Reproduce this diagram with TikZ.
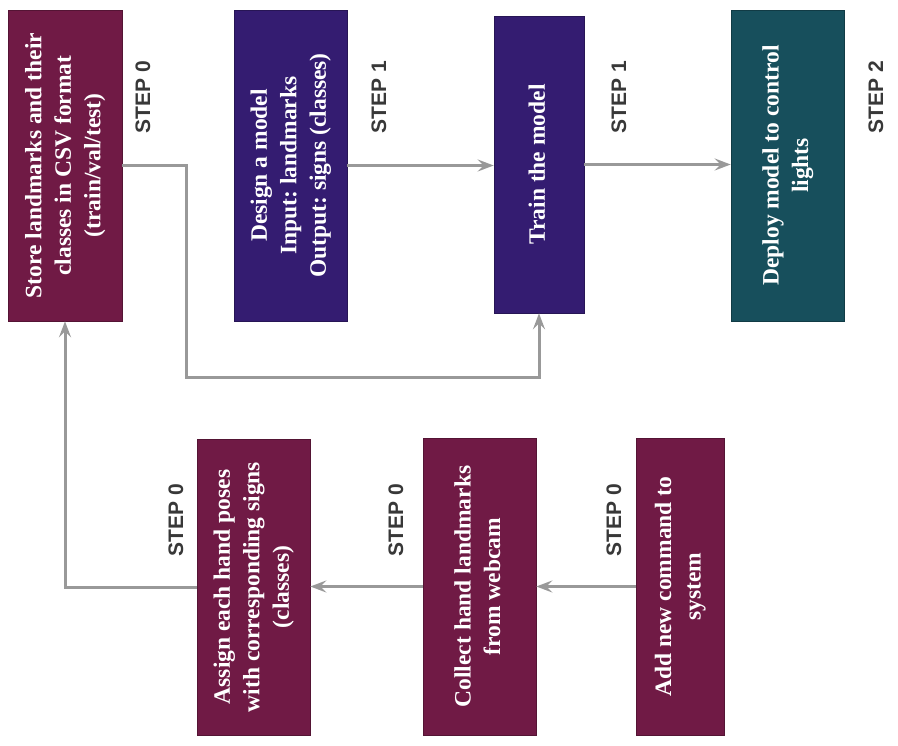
\documentclass[tikz,border=0pt]{standalone}
\usepackage{fontspec}
\usepackage{graphicx}
\setmainfont{Liberation Serif}
\newfontfamily\stepfont{Liberation Sans}
\usetikzlibrary{arrows.meta}
\definecolor{cMaroon}{HTML}{701A45}
\definecolor{cIndigo}{HTML}{341C71}
\definecolor{cTeal}{HTML}{174F5C}
\definecolor{cLine}{HTML}{999999}
\definecolor{cStep}{HTML}{383838}
\frenchspacing
\tikzset{
  boxbase/.style={line width=0.6pt, inner sep=0pt, text=white,
    font=\bfseries\fontsize{23.5}{29.5}\selectfont},
  mbox/.style={boxbase, draw=cMaroon!75!black, fill=cMaroon},
  ibox/.style={boxbase, draw=cIndigo!75!black, fill=cIndigo},
  tbox/.style={boxbase, draw=cTeal!75!black, fill=cTeal},
  steplabel/.style={rotate=90, inner sep=0pt, text=cStep,
    font=\stepfont\bfseries\fontsize{21}{25}\selectfont},
  conn/.style={draw=cLine, line width=3pt,
    -{Stealth[length=16pt,width=12pt,inset=6pt]}}
}
\newcommand{\vtxt}[1]{\rotatebox{90}{\begin{tabular}{@{}c@{}}#1\end{tabular}}}
\begin{document}
\begin{tikzpicture}[x=1pt,y=-1pt]
\useasboundingbox (0,0) rectangle (898,746);
% top row
\node[mbox, minimum width=114pt, minimum height=311pt] (store) at (65,165.5)
  {\vtxt{Store landmarks and their\\classes in CSV format\\(train/val/test)}};
\node[ibox, minimum width=113pt, minimum height=311pt] (design) at (290.5,165.5)
  {\vtxt{Design a model\\Input: landmarks\\Output: signs (classes)}};
\node[ibox, minimum width=90pt, minimum height=297pt] (train) at (539,164.5)
  {\vtxt{Train the model}};
\node[tbox, minimum width=113pt, minimum height=311pt] (deploy) at (787.5,165.5)
  {\vtxt{Deploy model to control\\lights}};
% bottom row
\node[mbox, minimum width=113pt, minimum height=296pt] (assign) at (253.5,587)
  {\vtxt{Assign each hand poses\\with corresponding signs\\(classes)}};
\node[mbox, minimum width=113pt, minimum height=297pt] (collect) at (479.5,586.5)
  {\vtxt{Collect hand landmarks\\from webcam}};
\node[mbox, minimum width=88pt, minimum height=297pt] (add) at (680,586.5)
  {\vtxt{Add new command to\\system}};
% step labels
\node[steplabel] (s1) at (143,97) {STEP 0};
\node[steplabel] (s2) at (379,97) {STEP 1};
\node[steplabel] (s3) at (619,97) {STEP 1};
\node[steplabel] (s4) at (876,97) {STEP 2};
\node[steplabel] (s5) at (176,520) {STEP 0};
\node[steplabel] (s6) at (396,520) {STEP 0};
\node[steplabel] (s7) at (614,520) {STEP 0};
% connectors
\coordinate (c1) at (186,378);
\draw[conn] (store.east) -| (c1) -| (train.south);
\draw[conn] (design.east) -- (design.east -| train.west);
\draw[conn] (train.east) -- (train.east -| deploy.west);
\draw[conn] (add.west) -- (add.west -| collect.east);
\draw[conn] (collect.west) -- (collect.west -| assign.east);
\draw[conn] (assign.west) -| (store.south);
\end{tikzpicture}
\end{document}
